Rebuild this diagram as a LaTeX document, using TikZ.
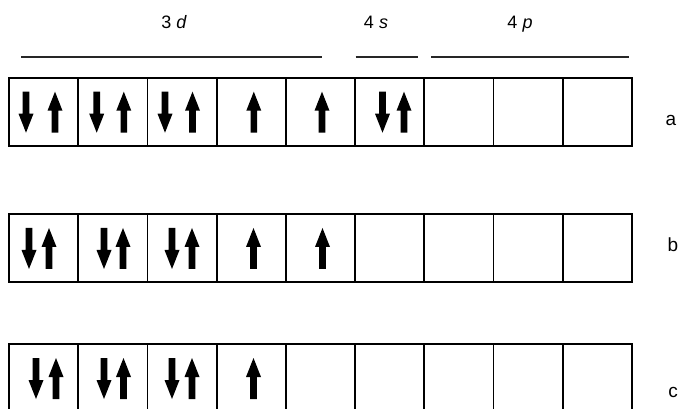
\documentclass[tikz,border=0pt]{standalone}
\usepackage{fontspec}
\setmainfont{Liberation Sans}
\begin{document}
\begin{tikzpicture}[x=1pt,y=-1pt,
  cellbox/.style={draw=black,line width=1.8pt,line join=miter},
  headline/.style={draw=black!85,line width=1.4pt},
  headtext/.style={anchor=base,inner sep=0pt,font=\fontsize{18}{20}\selectfont},
  rowlabel/.style={anchor=base,inner sep=0pt,font=\fontsize{19}{21}\selectfont},
  upspin/.pic={\fill[black] (0,0) -- (7.5,19) -- (3.3,19) -- (3.3,41) -- (-3.3,41) -- (-3.3,19) -- (-7.5,19) -- cycle;},
  downspin/.pic={\fill[black] (0,41) -- (7.5,22) -- (3.3,22) -- (3.3,0) -- (-3.3,0) -- (-3.3,22) -- (-7.5,22) -- cycle;}
]
\useasboundingbox (0,0) rectangle (681,409);
\fill[white] (0,0) rectangle (681,409);

% header
\node[headtext] (t3d) at (174,29) {3\hspace{5pt}\textit{d}};
\node[headtext] (t4s) at (376,29) {4\hspace{5pt}\textit{s}};
\node[headtext] (t4p) at (520,29) {4\hspace{5pt}\textit{p}};
\coordinate (l3a) at (21,57);   \coordinate (l3b) at (322,57);
\coordinate (l4sa) at (355.7,57); \coordinate (l4sb) at (417.7,57);
\coordinate (l4pa) at (431,57); \coordinate (l4pb) at (629,57);
\draw[headline] (l3a) -- (l3b);
\draw[headline] (l4sa) -- (l4sb);
\draw[headline] (l4pa) -- (l4pb);

% boxes
\foreach \top in {77.7,214,344}{
  \foreach \i in {0,...,8}{
    \draw[cellbox] ({9+69.2*\i},\top) rectangle ({9+69.2*(\i+1)},{\top+68});
  }
}

% row a arrows (top 91.7)
\foreach \x in {26,96.7,165,382.5}{ \pic at (\x,91.7) {downspin}; }
\foreach \x in {55,123.8,192.5,253.8,322,404}{ \pic at (\x,91.7) {upspin}; }

% row b arrows (top 228)
\foreach \x in {29,104,172}{ \pic at (\x,228) {downspin}; }
\foreach \x in {49,123,192,253.5,322.5}{ \pic at (\x,228) {upspin}; }

% row c arrows (top 358)
\foreach \x in {36,104,172}{ \pic at (\x,358) {downspin}; }
\foreach \x in {56,123.5,192,253.5}{ \pic at (\x,358) {upspin}; }

% row labels
\node[rowlabel] (la) at (671,126) {a};
\node[rowlabel] (lb) at (673,252) {b};
\node[rowlabel] (lc) at (673,397) {c};
\end{tikzpicture}
\end{document}
